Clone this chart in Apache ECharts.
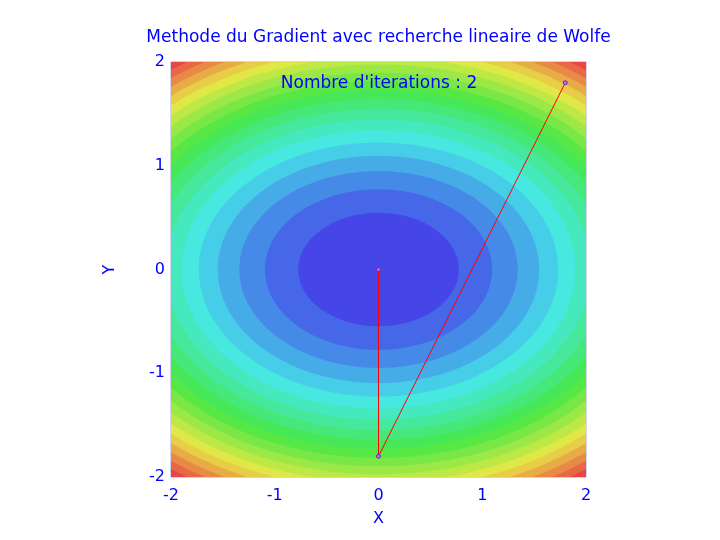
<!DOCTYPE html>
<html>
<head>
<meta charset="utf-8">
<script src="https://cdn.jsdelivr.net/npm/echarts@6/dist/echarts.min.js"></script>
<style>html,body{margin:0;padding:0;background:#fff}#c{width:720px;height:540px}</style>
</head>
<body>
<div id="c"></div>
<script>
// Contour levels of f(x,y) = x^2 + 2*y^2 (upper bound of each band)
const levels = [0.6, 1.2, 1.8, 2.4, 3.0, 3.6, 4.2, 4.8, 5.4, 6.0, 6.6, 7.2, 7.8, 8.4, 9.0, 9.6, 10.2, 10.8, 11.4, 12.0];
const bandColors = ['#4646e8','#4668e8','#468ae8','#46ace8','#46cee8','#46e8df','#46e8bd','#46e89b','#46e879','#46e857',
                    '#57e846','#79e846','#9be846','#bde846','#dfe846','#e8ce46','#e8ac46','#e88a46','#e86846','#e84646'];
const coefX = 1, coefY = 2; // f = coefX*x^2 + coefY*y^2
// gradient descent iterates
const iterX = [1.8, 0, 0];
const iterY = [1.8, -1.8, 0];
const xTicks = [-2, -1, 0, 1, 2];
const yTicks = [-2, -1, 0, 1, 2];
const titleText = "Methode du Gradient avec recherche lineaire de Wolfe";
const iterText = "Nombre d'iterations : 2";

const blue = '#0000ff';
const font = 'DejaVu Sans';
const contourData = levels.map((l, i) => ({ value: [l, i] })).reverse();
const pathData = iterX.map((x, i) => [x, iterY[i]]);

const chart = echarts.init(document.getElementById('c'));
chart.setOption({
  animation: false,
  graphic: [
    { type: 'text', x: 378.5, y: 38, z: 100, style: { text: titleText, fill: blue, font: '17px "DejaVu Sans"', textAlign: 'center', textVerticalAlign: 'middle' } },
    { type: 'text', x: 379, y: 84, z: 100, style: { text: iterText, fill: blue, font: '17px "DejaVu Sans"', textAlign: 'center', textVerticalAlign: 'middle' } }
  ],
  grid: { left: 171, top: 62, width: 415, height: 415, show: true, backgroundColor: bandColors[bandColors.length - 1], borderColor: '#a8a8d8', borderWidth: 1 },
  xAxis: {
    type: 'value', min: -2, max: 2, interval: 1,
    name: 'X', nameLocation: 'middle', nameGap: 34,
    nameTextStyle: { color: blue, fontSize: 16, fontFamily: font },
    axisLine: { show: false }, axisTick: { show: false }, splitLine: { show: false },
    axisLabel: { color: blue, fontSize: 16, fontFamily: font, margin: 11, formatter: v => xTicks.includes(v) ? String(v) : '' }
  },
  yAxis: {
    type: 'value', min: -2, max: 2, interval: 1,
    name: 'Y', nameLocation: 'middle', nameGap: 53, nameRotate: 90,
    nameTextStyle: { color: blue, fontSize: 16, fontFamily: font },
    axisLine: { show: false }, axisTick: { show: false }, splitLine: { show: false },
    axisLabel: { color: blue, fontSize: 16, fontFamily: font, margin: 6, formatter: v => yTicks.includes(v) ? String(v) : '' }
  },
  series: [
    {
      type: 'custom',
      clip: true,
      silent: true,
      data: contourData,
      renderItem: function (params, api) {
        const lv = api.value(0);
        const idx = api.value(1);
        const c = api.coord([0, 0]);
        const s = api.size([Math.sqrt(lv / coefX), Math.sqrt(lv / coefY)]);
        return {
          type: 'ellipse',
          shape: { cx: c[0], cy: c[1], rx: s[0], ry: s[1] },
          style: { fill: bandColors[idx], stroke: null }
        };
      },
      z: 1
    },
    {
      type: 'line',
      data: pathData,
      symbol: 'circle',
      symbolSize: 4,
      lineStyle: { color: '#ff0000', width: 1 },
      itemStyle: { color: '#b070e0', borderColor: '#7020c0', borderWidth: 1 },
      z: 5
    }
  ]
});
</script>
</body>
</html>
